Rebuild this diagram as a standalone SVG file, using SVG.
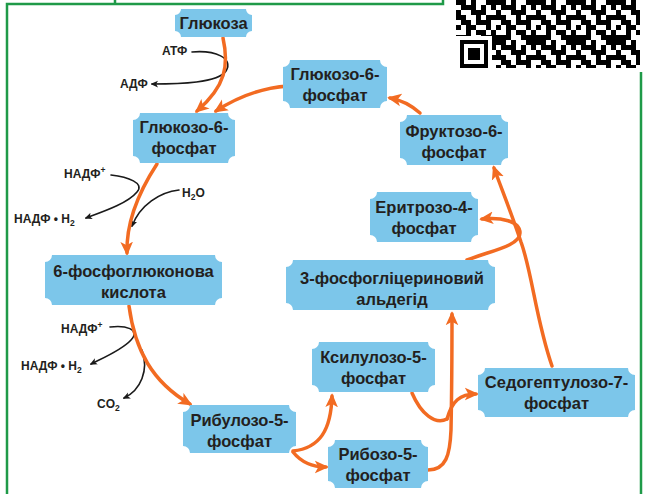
<svg xmlns="http://www.w3.org/2000/svg" width="645" height="494" viewBox="0 0 645 494">
  <style>
    .box { fill: #7cc6ea; }
    .lbl { font-family: "Liberation Sans", Arial, sans-serif; font-weight: bold; font-size: 16.5px; fill: #231f20; text-anchor: middle; }
    .sm { font-family: "Liberation Sans", Arial, sans-serif; font-weight: bold; font-size: 12px; fill: #231f20; }
    .flow { fill: none; stroke: #f26b22; stroke-width: 3.5; stroke-linecap: round; }
    .side { fill: none; stroke: #1a1a1a; stroke-width: 1.6; stroke-linecap: round; }
    .frame { fill: none; stroke: #1f9a48; stroke-width: 2.5; }
  </style>
  <defs>
    <marker id="ah" viewBox="0 0 10 10" refX="8" refY="5" markerWidth="14" markerHeight="14" markerUnits="userSpaceOnUse" orient="auto">
      <path d="M0,0.5 L10,5 L0,9.5 L2.5,5 z" fill="#f26b22"/>
    </marker>
    <marker id="bh" viewBox="0 0 10 10" refX="8" refY="5" markerWidth="7.5" markerHeight="7.5" markerUnits="userSpaceOnUse" orient="auto">
      <path d="M0,0.5 L10,5 L0,9.5 L2.5,5 z" fill="#1a1a1a"/>
    </marker>
    <pattern id="qr" x="456" y="0" width="40" height="40" patternUnits="userSpaceOnUse">
      <path fill="#000" d="M0 0h10v5h-10z M15 0h5v5h-5z M30 0h10v5h-10z M5 5h15v5h-15z M25 5h5v5h-5z M35 5h5v5h-5z M0 10h5v5h-5z M15 10h15v5h-15z M0 15h10v5h-10z M20 15h5v5h-5z M30 15h10v5h-10z M5 20h10v5h-10z M20 20h15v5h-15z M0 25h5v5h-5z M10 25h10v5h-10z M30 25h5v5h-5z M10 30h5v5h-5z M20 30h10v5h-10z M35 30h5v5h-5z M0 35h15v5h-15z M25 35h15v5h-15z"/>
    </pattern>
  </defs>

  <rect width="645" height="494" fill="#ffffff"/>

  <!-- page frame -->
  <path class="frame" d="M7,494 V4 H443 V0 M115,0 V4 M641,72 V494"/>

  <!-- QR code -->
  <g id="qr-code">
    <rect x="456" y="0" width="184" height="68" fill="url(#qr)"/>
    <rect x="456" y="36" width="36" height="32" fill="#fff"/>
    <rect x="460" y="40" width="28" height="28" fill="#000"/>
    <rect x="464" y="44" width="20" height="20" fill="#fff"/>
    <rect x="468" y="48" width="12" height="12" fill="#000"/>
  </g>

  <!-- connectors -->
  <g id="connectors">
    <!-- cofactor side arrows -->
    <path class="side" d="M192,52 C215,50 234,58 226,71 C218,83 180,84 152,84" marker-end="url(#bh)"/>
    <path class="side" d="M111,175 C128,177 145,183 137,192 C128,203 105,211 86,218" marker-end="url(#bh)"/>
    <path class="side" d="M179,190 C160,192 140,205 132,226" marker-end="url(#bh)"/>
    <path class="side" d="M110,327 C125,325 141,329 131,340 C122,350 103,358 91,364" marker-end="url(#bh)"/>
    <path class="side" d="M142,350 C149,370 141,390 124,398" marker-end="url(#bh)"/>

    <!-- main flow -->
    <path class="flow" d="M223,38 C229,65 226,86 197,111" marker-end="url(#ah)"/>
    <path class="flow" d="M288,86 C260,88 236,98 216,111" marker-end="url(#ah)"/>
    <path class="flow" d="M420,113 C411,105 401,100 390,98" marker-end="url(#ah)"/>
    <path class="flow" d="M157,164 C140,190 126,220 127,253" marker-end="url(#ah)"/>
    <path class="flow" d="M129,306 C135,350 152,382 190,404" marker-end="url(#ah)"/>
    <path class="flow" d="M293,451 C320,448 331,430 332,396" marker-end="url(#ah)"/>
    <path class="flow" d="M293,452 C301,462 311,467 326,467" marker-end="url(#ah)"/>
    <path class="flow" d="M412,393 C421,414 435,425 447,419"/>
    <path class="flow" d="M447,419 C452,401 460,394 476,394" marker-end="url(#ah)"/>
    <path class="flow" d="M428,470 C446,470 450,455 451,430 C452,380 452,340 452,314" marker-end="url(#ah)"/>
    <path class="flow" d="M552,366 C536,320 532,272 521,242 C511,212 502,190 494,168" marker-end="url(#ah)"/>
    <path class="flow" d="M467,260 C490,251 520,246 520,233 C520,221 501,217 482,219" marker-end="url(#ah)"/>
  </g>

  <!-- cofactor labels -->
  <text class="sm" x="162" y="55">АТФ</text>
  <text class="sm" x="120" y="88">АДФ</text>
  <text class="sm" x="64" y="178">НАДФ<tspan font-size="8.5" dy="-5">+</tspan></text>
  <text class="sm" x="182" y="197">H<tspan font-size="8.5" dy="3">2</tspan><tspan dy="-3">O</tspan></text>
  <text class="sm" x="14" y="223">НАДФ • H<tspan font-size="8.5" dy="3">2</tspan></text>
  <text class="sm" x="61" y="333">НАДФ<tspan font-size="8.5" dy="-5">+</tspan></text>
  <text class="sm" x="21" y="370">НАДФ • H<tspan font-size="8.5" dy="3">2</tspan></text>
  <text class="sm" x="97" y="408">CO<tspan font-size="8.5" dy="3">2</tspan></text>

  <!-- nodes -->
  <g id="glucose">
    <path class="box" d="M181,9 H246 A6,6 0 0 0 252,15 V31 A6,6 0 0 0 246,37 H181 A6,6 0 0 0 175,31 V15 A6,6 0 0 0 181,9 Z"/>
    <text class="lbl" x="213.5" y="29">Глюкоза</text>
  </g>
  <g id="g6p-left">
    <path class="box" d="M140,113 H228 A7,7 0 0 0 235,120 V156 A7,7 0 0 0 228,163 H140 A7,7 0 0 0 133,156 V120 A7,7 0 0 0 140,113 Z"/>
    <text class="lbl" x="184" y="133">Глюкозо-6-</text>
    <text class="lbl" x="184" y="154">фосфат</text>
  </g>
  <g id="g6p-right">
    <path class="box" d="M290,60 H380 A7,7 0 0 0 387,67 V101 A7,7 0 0 0 380,108 H290 A7,7 0 0 0 283,101 V67 A7,7 0 0 0 290,60 Z"/>
    <text class="lbl" x="335" y="80">Глюкозо-6-</text>
    <text class="lbl" x="335" y="101">фосфат</text>
  </g>
  <g id="f6p">
    <path class="box" d="M407,115 H501 A7,7 0 0 0 508,122 V158 A7,7 0 0 0 501,165 H407 A7,7 0 0 0 400,158 V122 A7,7 0 0 0 407,115 Z"/>
    <text class="lbl" x="454" y="137">Фруктозо-6-</text>
    <text class="lbl" x="454" y="158">фосфат</text>
  </g>
  <g id="e4p">
    <path class="box" d="M377,192 H471 A7,7 0 0 0 478,199 V235 A7,7 0 0 0 471,242 H377 A7,7 0 0 0 370,235 V199 A7,7 0 0 0 377,192 Z"/>
    <text class="lbl" x="424" y="213">Еритрозо-4-</text>
    <text class="lbl" x="424" y="234">фосфат</text>
  </g>
  <g id="pgluconate">
    <path class="box" d="M52,255 H215 A7,7 0 0 0 222,262 V298 A7,7 0 0 0 215,305 H52 A7,7 0 0 0 45,298 V262 A7,7 0 0 0 52,255 Z"/>
    <text class="lbl" x="133.5" y="277">6-фосфоглюконова</text>
    <text class="lbl" x="133.5" y="298">кислота</text>
  </g>
  <g id="gap">
    <path class="box" d="M293,260 H488 A7,7 0 0 0 495,267 V303 A7,7 0 0 0 488,310 H293 A7,7 0 0 0 286,303 V267 A7,7 0 0 0 293,260 Z"/>
    <text class="lbl" x="392" y="284">3-фосфогліцериновий</text>
    <text class="lbl" x="392" y="305">альдегід</text>
  </g>
  <g id="ru5p">
    <path class="box" d="M190,405 H289 A7,7 0 0 0 296,412 V446 A7,7 0 0 0 289,453 H190 A7,7 0 0 0 183,446 V412 A7,7 0 0 0 190,405 Z"/>
    <text class="lbl" x="239.5" y="426">Рибулозо-5-</text>
    <text class="lbl" x="239.5" y="447">фосфат</text>
  </g>
  <g id="xu5p">
    <path class="box" d="M319,342 H428 A7,7 0 0 0 435,349 V385 A7,7 0 0 0 428,392 H319 A7,7 0 0 0 312,385 V349 A7,7 0 0 0 319,342 Z"/>
    <text class="lbl" x="373.5" y="363">Ксилулозо-5-</text>
    <text class="lbl" x="373.5" y="384">фосфат</text>
  </g>
  <g id="s7p">
    <path class="box" d="M485,368 H628 A7,7 0 0 0 635,375 V410 A7,7 0 0 0 628,417 H485 A7,7 0 0 0 478,410 V375 A7,7 0 0 0 485,368 Z"/>
    <text class="lbl" x="556.5" y="388">Седогептулозо-7-</text>
    <text class="lbl" x="556.5" y="409">фосфат</text>
  </g>
  <g id="r5p">
    <path class="box" d="M335,440 H421 A7,7 0 0 0 428,447 V481 A7,7 0 0 0 421,488 H335 A7,7 0 0 0 328,481 V447 A7,7 0 0 0 335,440 Z"/>
    <text class="lbl" x="378" y="460">Рибозо-5-</text>
    <text class="lbl" x="378" y="481">фосфат</text>
  </g>
</svg>
